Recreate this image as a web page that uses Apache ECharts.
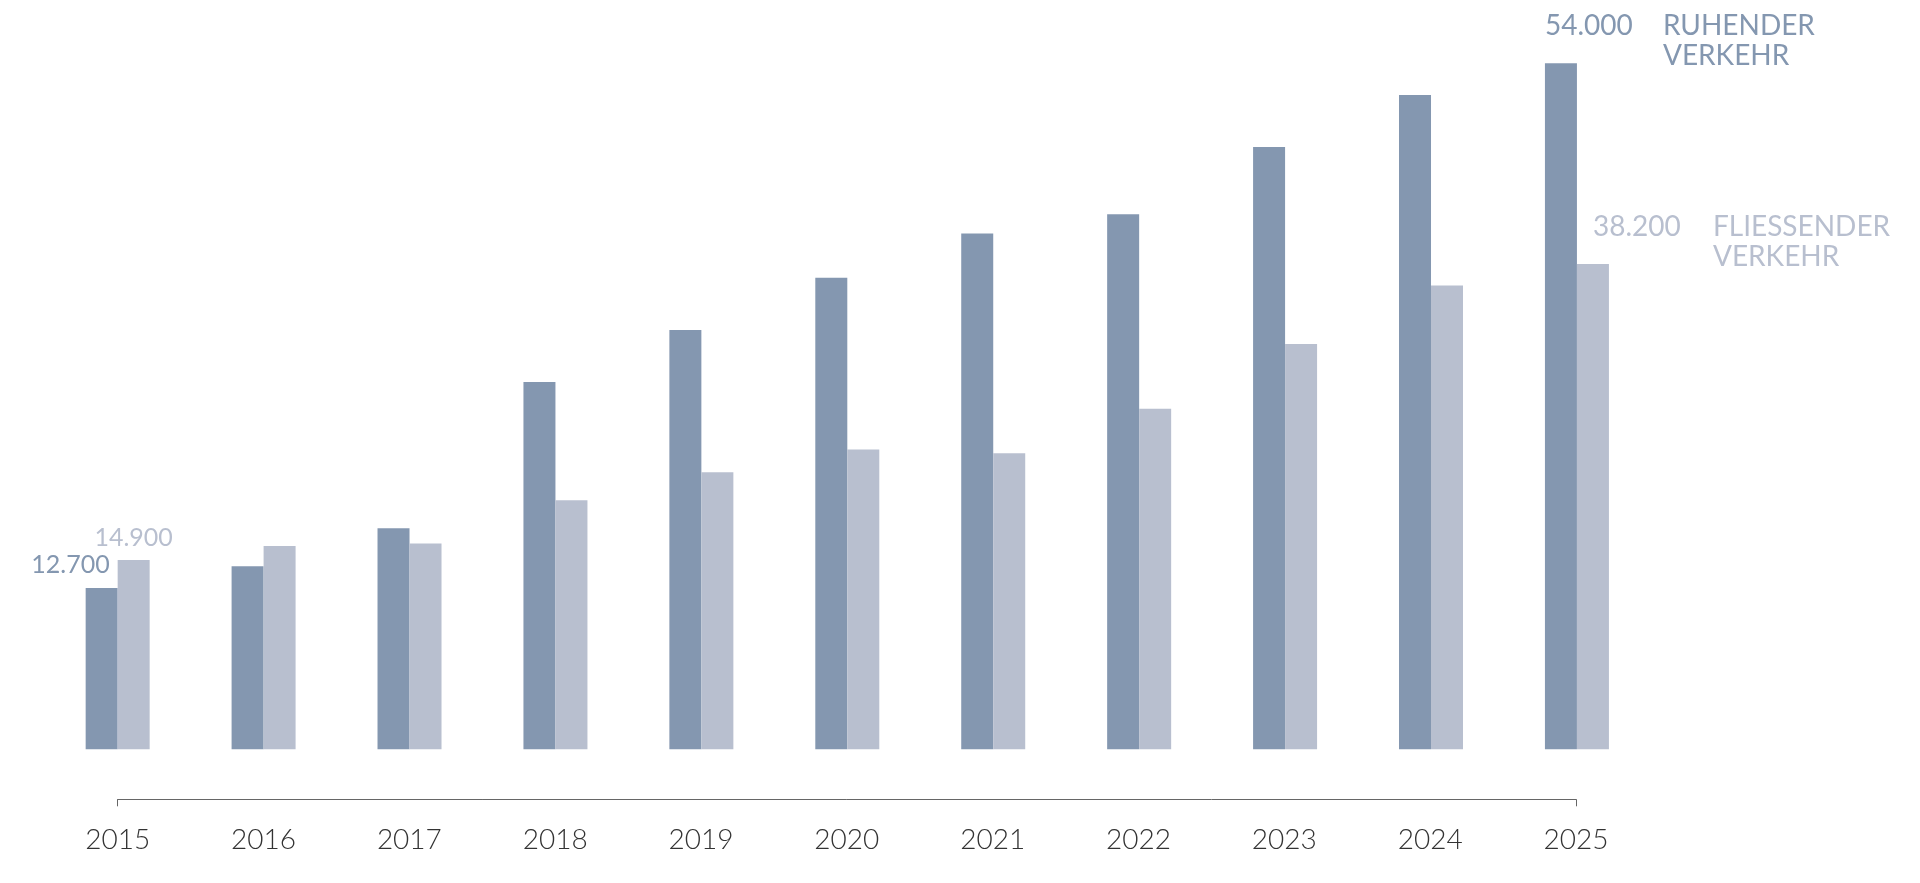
<!DOCTYPE html>
<html>
<head>
<meta charset="utf-8">
<script src="https://cdn.jsdelivr.net/npm/echarts@6/dist/echarts.min.js"></script>
<style>
html,body{margin:0;padding:0;background:#fff;}
#chart{width:1920px;height:883px;}
</style>
</head>
<body>
<div id="chart"></div>
<script>
const years = ['2015','2016','2017','2018','2019','2020','2021','2022','2023','2024','2025'];
const ruhenderVerkehr = [12700, 14400, 17400, 28900, 33000, 37100, 40600, 42100, 47400, 51500, 54000];
const fliessenderVerkehr = [14900, 16000, 16200, 19600, 21800, 23600, 23300, 26800, 31900, 36500, 38200];
const seriesNames = ['Ruhender Verkehr', 'Fließender Verkehr'];
const endLabelLines = [['RUHENDER', 'VERKEHR'], ['FLIESSENDER', 'VERKEHR']];

const DARK = '#8497b0';
const LIGHT = '#b8bfcf';
const FONT = 'Lato';

function fmt(v) {
  return String(v).replace(/\B(?=(\d{3})+(?!\d))/g, '.');
}

function endLabel(lines, color, numWidth, dx) {
  return {
    show: true,
    position: 'top',
    distance: 0,
    align: 'left',
    offset: [dx, 8],
    formatter: p => `{v|${fmt(p.value)}}{n|${lines[0]}}\n{v| }{n|${lines[1]}}`,
    rich: {
      v: { width: numWidth, fontSize: 28, lineHeight: 30, color: color, fontFamily: FONT, fontWeight: 400, align: 'left' },
      n: { fontSize: 28, lineHeight: 30, color: color, fontFamily: FONT, fontWeight: 400 }
    }
  };
}

const last = years.length - 1;
const darkData = ruhenderVerkehr.map((v, i) => {
  if (i === 0) return { value: v, label: { show: true, position: 'top', distance: 10, align: 'right', offset: [8, 0], formatter: p => fmt(p.value), fontSize: 25, color: DARK, fontFamily: FONT, fontWeight: 400 } };
  if (i === last) return { value: v, label: endLabel(endLabelLines[0], DARK, 118, -16) };
  return v;
});
const lightData = fliessenderVerkehr.map((v, i) => {
  if (i === 0) return { value: v, label: { show: true, position: 'top', distance: 10, formatter: p => fmt(p.value), fontSize: 25, color: LIGHT, fontFamily: FONT, fontWeight: 400 } };
  if (i === last) return { value: v, label: endLabel(endLabelLines[1], LIGHT, 120, 0) };
  return v;
});

const chart = echarts.init(document.getElementById('chart'), null, { renderer: 'canvas' });
chart.setOption({
  backgroundColor: '#ffffff',
  animation: false,
  textStyle: { fontFamily: FONT },
  grid: [
    { left: 44.7, width: 1605.2, top: 12.3, height: 737, containLabel: false },
    { left: 117.7, width: 1458.3, top: 760, height: 39.3, containLabel: false }
  ],
  xAxis: [
    { type: 'category', gridIndex: 0, data: years, show: false },
    {
      type: 'category', gridIndex: 1, data: years, boundaryGap: false,
      axisLine: { show: true, lineStyle: { color: '#666666', width: 1 } },
      axisTick: { show: true, length: 7, interval: (i) => i === 0 || i === last, lineStyle: { color: '#666666', width: 1 } },
      axisLabel: { show: true, interval: 0, margin: 27, fontSize: 28, color: '#333333', fontFamily: FONT, fontWeight: 300 },
      splitLine: { show: false }
    }
  ],
  yAxis: [
    { type: 'value', gridIndex: 0, min: 0, max: 58000, show: false, splitLine: { show: false } },
    { type: 'value', gridIndex: 1, show: false, splitLine: { show: false } }
  ],
  series: [
    { name: seriesNames[0], type: 'bar', xAxisIndex: 0, yAxisIndex: 0, data: darkData, barWidth: 32, barGap: '0%', itemStyle: { color: DARK } },
    { name: seriesNames[1], type: 'bar', xAxisIndex: 0, yAxisIndex: 0, data: lightData, barWidth: 32, barGap: '0%', itemStyle: { color: LIGHT } }
  ]
});
</script>
</body>
</html>
